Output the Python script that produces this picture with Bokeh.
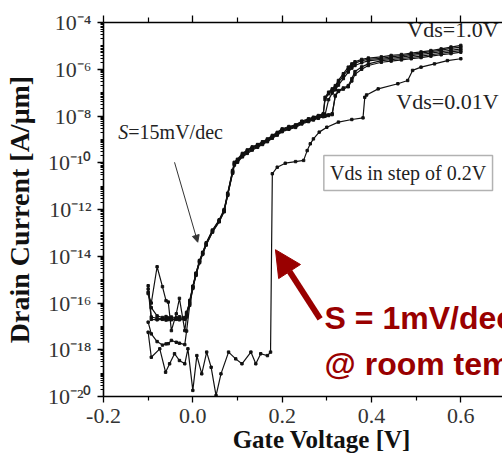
import numpy as np
from bokeh.plotting import figure
from bokeh.models import (Range1d, LinearAxis, FixedTicker, CustomJSTickFormatter,
                          Label, Arrow, NormalHead, BoxAnnotation)
from bokeh.embed import file_html
from bokeh.resources import INLINE

# ---------------- data (gate voltage [V], log10 drain current [A/um]) ----------------
vg_grid = [-0.100, -0.093, -0.080, -0.068, -0.060, -0.055, -0.048, -0.037, -0.030, -0.018,
           -0.014, -0.007, 0.000, 0.007, 0.015, 0.022, 0.030, 0.044, 0.059, 0.070,
           0.078, 0.089, 0.093, 0.100, 0.111, 0.122, 0.133, 0.145, 0.156, 0.167,
           0.178, 0.189, 0.200, 0.215, 0.230, 0.244, 0.259, 0.270, 0.281, 0.292,
           0.296, 0.304, 0.312, 0.319, 0.326, 0.337, 0.348, 0.356, 0.363, 0.378,
           0.393, 0.422, 0.444, 0.467, 0.489, 0.511, 0.533, 0.556, 0.578, 0.600]

logi_vds_1p0 = [-15.60, -16.00, -14.45, -15.30, -15.90, -15.96, -17.18, -16.46, -15.80, -17.18,
                -16.60, -15.89, -15.30, -14.75, -14.18, -13.83, -13.45, -12.90, -12.47, -12.04,
                -11.33, -10.33, -9.98, -9.85, -9.60, -9.45, -9.32, -9.22, -9.10, -8.98,
                -8.83, -8.70, -8.55, -8.45, -8.38, -8.22, -8.12, -8.05, -7.98, -7.90,
                -7.20, -6.98, -6.84, -6.70, -6.48, -6.19, -5.91, -5.77, -5.68, -5.58,
                -5.52, -5.47, -5.41, -5.37, -5.31, -5.26, -5.20, -5.13, -5.05, -4.98]

logi_vds_0p8 = [-15.26, -16.60, -16.66, -16.68, -16.67, -16.66, -16.68, -16.67, -16.66, -16.65,
                -16.40, -15.95, -15.28, -14.72, -14.20, -13.86, -13.42, -12.88, -12.44, -12.00,
                -11.30, -10.36, -10.00, -9.88, -9.64, -9.48, -9.35, -9.24, -9.13, -9.01,
                -8.86, -8.73, -8.58, -8.48, -8.40, -8.25, -8.15, -8.08, -8.01, -7.93,
                -7.30, -7.05, -6.90, -6.76, -6.55, -6.28, -6.00, -5.84, -5.74, -5.63,
                -5.58, -5.53, -5.47, -5.42, -5.36, -5.31, -5.25, -5.18, -5.11, -5.05]

logi_vds_0p6 = [-15.40, -16.70, -16.72, -16.70, -16.73, -16.71, -16.72, -16.70, -16.72, -16.70,
                -16.50, -16.05, -15.35, -14.80, -14.25, -13.90, -13.50, -12.95, -12.50, -12.08,
                -11.38, -10.40, -10.05, -9.92, -9.68, -9.52, -9.38, -9.27, -9.16, -9.04,
                -8.89, -8.76, -8.61, -8.51, -8.43, -8.28, -8.18, -8.11, -8.04, -7.97,
                -7.95, -7.30, -7.02, -6.88, -6.68, -6.40, -6.12, -5.95, -5.84, -5.72,
                -5.64, -5.58, -5.53, -5.48, -5.42, -5.37, -5.31, -5.25, -5.19, -5.13]

logi_vds_0p4 = [-15.54, -16.20, -16.55, -16.62, -16.58, -16.64, -16.60, -16.63, -16.59, -16.62,
                -16.45, -16.00, -15.32, -14.78, -14.22, -13.88, -13.48, -12.92, -12.48, -12.06,
                -11.36, -10.42, -10.08, -9.95, -9.72, -9.56, -9.42, -9.30, -9.19, -9.07,
                -8.92, -8.79, -8.64, -8.54, -8.46, -8.31, -8.21, -8.14, -8.07, -8.00,
                -7.98, -7.95, -7.90, -7.12, -6.91, -6.80, -6.70, -6.40, -6.10, -5.90,
                -5.77, -5.63, -5.59, -5.54, -5.49, -5.44, -5.38, -5.32, -5.26, -5.20]

logi_vds_0p2 = [-16.82, -17.32, -17.65, -17.80, -17.75, -17.74, -17.60, -17.68, -17.72, -17.78,
                -17.20, -16.10, -15.38, -14.82, -14.28, -13.92, -13.52, -12.97, -12.53, -12.10,
                -11.40, -10.45, -10.10, -9.98, -9.75, -9.60, -9.46, -9.34, -9.22, -9.10,
                -8.95, -8.82, -8.67, -8.57, -8.49, -8.34, -8.24, -8.17, -8.10, -8.03,
                -8.01, -7.98, -7.94, -7.15, -6.95, -6.85, -6.75, -6.50, -6.22, -6.00,
                -5.84, -5.70, -5.65, -5.60, -5.55, -5.50, -5.44, -5.38, -5.33, -5.27]

vg_vds_0p01 = [-0.100, -0.093, -0.074, -0.061, -0.052, -0.041, -0.030, -0.018, -0.011, 0.000,
               0.009, 0.020, 0.031, 0.041, 0.052, 0.063, 0.080, 0.096, 0.110, 0.130,
               0.141, 0.152, 0.167, 0.174, 0.178, 0.189, 0.207, 0.230, 0.248, 0.256,
               0.263, 0.270, 0.283, 0.300, 0.326, 0.356, 0.381, 0.385, 0.389, 0.415,
               0.459, 0.481, 0.492, 0.511, 0.541, 0.570, 0.600]
logi_vds_0p01 = [-17.25, -18.32, -17.96, -18.96, -18.60, -18.17, -18.46, -18.60, -17.96, -19.74,
                 -18.25, -19.03, -18.10, -18.75, -19.96, -19.03, -18.10, -18.39, -18.60, -18.10,
                 -18.60, -18.17, -18.25, -18.10, -10.47, -10.19, -10.02, -9.95, -9.90, -9.48,
                 -9.19, -8.98, -8.69, -8.48, -8.26, -8.15, -8.08, -7.20, -7.10, -6.84,
                 -6.62, -6.48, -6.05, -5.91, -5.77, -5.63, -5.55]

x_major = [-0.2, 0.0, 0.2, 0.4, 0.6]
x_minor = [-0.1, 0.1, 0.3, 0.5]
y_major_exp = [-20, -18, -16, -14, -12, -10, -8, -6, -4]

# ---------------- figure ----------------
SERIF = "Liberation Serif"
p = figure(width=502, height=458, x_range=Range1d(-0.2, 0.6933),
           y_range=Range1d(1e-20, 1e-4), y_axis_type="log",
           output_backend="svg", toolbar_location=None,
           min_border_left=100, min_border_right=0, min_border_top=22, min_border_bottom=62)
p.outline_line_color = None
p.xgrid.visible = False
p.ygrid.visible = False
p.background_fill_color = "white"
p.border_fill_color = "white"

xticker = FixedTicker(ticks=x_major, minor_ticks=x_minor)
yticks = [10.0 ** e for e in y_major_exp]
yminor = [k * 10.0 ** e for e in range(-20, -4) for k in range(1, 10)
          if not (k == 1 and e % 2 == 0)]
yticker = FixedTicker(ticks=yticks, minor_ticks=yminor)

xfmt = CustomJSTickFormatter(code="return tick.toFixed(1);")
yfmt = CustomJSTickFormatter(code="""
const sup = {'-':'\u207b','0':'\u2070','1':'\u00b9','2':'\u00b2','3':'\u00b3','4':'\u2074',
             '5':'\u2075','6':'\u2076','7':'\u2077','8':'\u2078','9':'\u2079'};
const e = Math.round(Math.log10(tick));
return '10' + String(e).split('').map(c => sup[c]).join('');
""")

for ax in p.xaxis:
    ax.ticker = xticker
    ax.formatter = xfmt
    ax.major_label_text_font = SERIF
    ax.major_label_text_font_size = "22px"
    ax.major_label_text_color = "#333333"
    ax.major_label_standoff = 6
    ax.major_tick_out = 6
    ax.major_tick_in = 0
    ax.minor_tick_out = 4
    ax.minor_tick_in = 0
    ax.axis_line_width = 1.6
    ax.major_tick_line_width = 1.3
    ax.minor_tick_line_width = 1.2
    # leading no-break spaces shift the centred label right, as in the original figure
    ax.axis_label = "\u00a0" * 6 + "Gate Voltage [V]"
    ax.axis_label_text_font = SERIF
    ax.axis_label_text_font_style = "bold"
    ax.axis_label_text_font_size = "25px"
    ax.axis_label_text_color = "#111111"
    ax.axis_label_standoff = 0

for ax in p.yaxis:
    ax.ticker = yticker
    ax.formatter = yfmt
    ax.major_label_text_font = SERIF
    ax.major_label_text_font_size = "22px"
    ax.major_label_text_color = "#333333"
    ax.major_label_standoff = 6
    ax.major_tick_out = 6
    ax.major_tick_in = 0
    ax.minor_tick_out = 3
    ax.minor_tick_in = 0
    ax.axis_line_width = 1.6
    ax.major_tick_line_width = 1.3
    ax.minor_tick_line_width = 1.0
    ax.axis_label = "Drain Current [A/\u03bcm]"
    ax.axis_label_text_font = SERIF
    ax.axis_label_text_font_style = "bold"
    ax.axis_label_text_font_size = "28px"
    ax.axis_label_text_color = "#111111"
    ax.axis_label_standoff = 10

top = LinearAxis(ticker=xticker, major_label_text_font_size="8px", major_label_text_color=None,
                 major_label_standoff=0,
                 major_tick_out=7, major_tick_in=0, minor_tick_out=5, minor_tick_in=0,
                 axis_line_width=1.6, major_tick_line_width=1.3, minor_tick_line_width=1.2)
p.add_layout(top, "above")

# ---------------- curves ----------------
curves = [(vg_grid, logi_vds_1p0), (vg_grid, logi_vds_0p8), (vg_grid, logi_vds_0p6),
          (vg_grid, logi_vds_0p4), (vg_grid, logi_vds_0p2), (vg_vds_0p01, logi_vds_0p01)]
for xs, ls in curves:
    ys = 10.0 ** np.array(ls)
    p.line(xs, ys, line_color="#111111", line_width=1.2)
    p.scatter(xs, ys, marker="square", size=2.4, color="#111111")

# ---------------- annotations ----------------
p.add_layout(Label(x=-0.1667, y=10 ** -9.16, text="S", text_font=SERIF, text_font_style="italic",
                   text_font_size="20px", text_color="#222222"))
p.add_layout(Label(x=-0.1445, y=10 ** -9.16, text="=15mV/dec", text_font=SERIF,
                   text_font_size="20px", text_color="#222222"))
p.add_layout(Arrow(x_start=-0.041, y_start=10 ** -9.98, x_end=0.011, y_end=10 ** -13.4,
                   line_width=1, line_color="#333333",
                   end=NormalHead(size=7, fill_color="#333333", line_color="#333333")))

p.add_layout(Label(x=0.6844, y=10 ** -4.84, text="Vds=1.0V", text_font=SERIF, text_align="right",
                   text_font_size="22px", text_color="#222222"))
p.add_layout(Label(x=0.6844, y=10 ** -7.90, text="Vds=0.01V", text_font=SERIF, text_align="right",
                   text_font_size="22px", text_color="#222222"))

p.add_layout(BoxAnnotation(left=0.2933, right=0.671, top=10 ** -9.69, bottom=10 ** -11.19,
                           fill_alpha=0, line_color="black", line_width=1.5))
p.add_layout(Label(x=0.482, y=10 ** -10.44, text="Vds in step of 0.2V", text_font=SERIF,
                   text_align="center", text_baseline="middle", text_font_size="20px",
                   text_color="#222222"))

RED = "#990000"
p.add_layout(Arrow(x_start=0.285, y_start=10 ** -16.68, x_end=0.185, y_end=10 ** -13.72,
                   line_width=6, line_color=RED,
                   end=NormalHead(size=26, fill_color=RED, line_color=RED)))
p.add_layout(Label(x=0.295, y=10 ** -17.40, text="S = 1mV/dec", text_font="Liberation Sans",
                   text_font_style="bold", text_font_size="32px", text_color=RED))
p.add_layout(Label(x=0.295, y=10 ** -19.40, text="@ room temp.", text_font="Liberation Sans",
                   text_font_style="bold", text_font_size="32px", text_color=RED))

open("out.html", "w").write(file_html(p, INLINE))
